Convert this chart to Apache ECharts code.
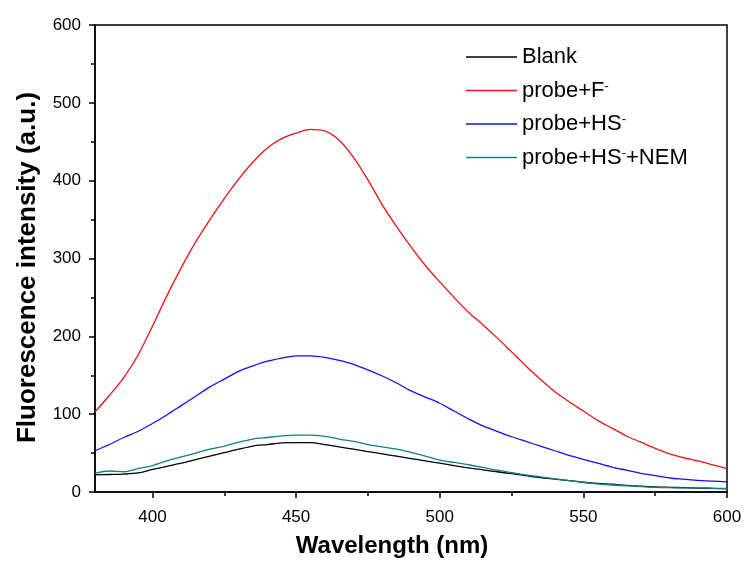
<!DOCTYPE html>
<html>
<head>
<meta charset="utf-8">
<script src="https://cdn.jsdelivr.net/npm/echarts@6/dist/echarts.min.js"></script>
<style>
  html, body { margin: 0; padding: 0; background: #fff; }
  #chart { width: 747px; height: 563px; }
</style>
</head>
<body>
<div id="chart"></div>
<script>
// wavelength (nm), 5 nm steps
const wavelengths = [380,385,390,395,400,405,410,415,420,425,430,435,440,445,450,455,460,465,470,475,480,485,490,495,500,505,510,515,520,525,530,535,540,545,550,555,560,565,570,575,580,585,590,595,600]

const blank = [22,22.5,23,24.5,29,33,37,41.5,46,50.5,55,59,61,63,63.5,63.5,61,58,55,52,49,46,43,40,37,34,31,28.5,26,23.5,21,18.5,16.5,14.5,12.5,11,10,8.5,7.5,6.5,6,5.5,5,4.6,4.3]
const probeF = [103,124,147,176,213,252,288,321,350,377,402,424,442,454,461,466,464,452,430,401,369,341,315,291,270,250,231,215,198,180,162,145,129,116,104,92,82,72,64,56,49,44,40,35,30]
const probeHS = [53,61,70,78,88,99,111,123,135,145,155,162,168,172,175,175,173,169,164,157,149,140,130,122,114,104,94,85,78,71,65,59,53,47,42,37,32,28,24,21,18,16.5,15,14,13]
const probeHSNEM = [24,27,26,30,34,40,45,50,55,59,64,68,70,72,73,73,71.5,68,65,61,58,55,51,46,41,38,35,31.5,28,25,22,19.5,17,14.5,12.5,10.5,9,8,7,6,5.5,5.2,5,4.8,4.5]

const xMajor = [400, 450, 500, 550, 600]
const xMinor = [425, 475, 525, 575]

const FONT = 'Liberation Sans, Arial, sans-serif'

function pairs(ys) {
  return wavelengths.map((x, i) => [x, ys[i]])
}

function line(name, ys, color) {
  return {
    name: name,
    type: 'line',
    data: pairs(ys),
    symbol: 'none',
    smooth: 0.3,
    lineStyle: { color: color, width: 1.3 },
    itemStyle: { color: color }
  }
}

const legendText = {
  'Blank': 'Blank',
  'probe+F-': 'probe+F{sup|-}',
  'probe+HS-': 'probe+HS{sup|-}',
  'probe+HS-+NEM': 'probe+HS{sup|-}+NEM'
}

const chart = echarts.init(document.getElementById('chart'))

const option = {
  backgroundColor: '#fff',
  animation: false,
  textStyle: { fontFamily: FONT },
  grid: {
    left: 95, right: 20, top: 25, bottom: 69,
    show: true,
    borderColor: '#000',
    borderWidth: 1.5
  },
  legend: {
    orient: 'vertical',
    left: 461,
    top: 41,
    itemWidth: 51,
    itemHeight: 1.5,
    itemGap: 11.5,
    itemTextGap: 7,
    icon: 'rect',
    formatter: n => legendText[n],
    textStyle: {
      fontFamily: FONT,
      fontSize: 22,
      color: '#000',
      rich: {
        sup: { fontSize: 13, fontFamily: FONT, color: '#000', verticalAlign: 'top', lineHeight: 22 }
      }
    },
    data: ['Blank', 'probe+F-', 'probe+HS-', 'probe+HS-+NEM']
  },
  xAxis: [
    {
      type: 'value',
      min: 380,
      max: 600,
      name: 'Wavelength (nm)',
      nameLocation: 'middle',
      nameGap: 42,
      nameTextStyle: { fontFamily: FONT, fontSize: 24, fontWeight: 'bold', color: '#000', padding: [0, 38, 0, 0] },
      axisLine: { show: true, onZero: false, lineStyle: { color: '#000', width: 1.5 } },
      axisTick: { show: true, length: 6, customValues: xMajor, lineStyle: { color: '#000', width: 1.5 } },
      axisLabel: { customValues: xMajor, margin: 17, fontSize: 17, color: '#000', fontFamily: FONT },
      splitLine: { show: false }
    },
    {
      type: 'value',
      position: 'bottom',
      min: 380,
      max: 600,
      axisLine: { show: false },
      axisTick: { show: true, length: 4, customValues: xMinor, lineStyle: { color: '#000', width: 1.5 } },
      axisLabel: { show: false },
      splitLine: { show: false }
    }
  ],
  yAxis: {
    type: 'value',
    min: 0,
    max: 600,
    interval: 100,
    name: 'Fluorescence intensity (a.u.)',
    nameLocation: 'middle',
    nameGap: 54,
    nameTextStyle: { fontFamily: FONT, fontSize: 26, fontWeight: 'bold', color: '#000', padding: [0, 18, 0, 0] },
    axisLine: { show: true, lineStyle: { color: '#000', width: 1.5 } },
    axisTick: { show: true, length: 6, lineStyle: { color: '#000', width: 1.5 } },
    minorTick: { show: true, splitNumber: 2, length: 4, lineStyle: { color: '#000', width: 1.5 } },
    axisLabel: { margin: 14, fontSize: 17, color: '#000', fontFamily: FONT },
    splitLine: { show: false }
  },
  series: [
    line('Blank', blank, '#000000'),
    line('probe+F-', probeF, '#ee1111'),
    line('probe+HS-', probeHS, '#1111ee'),
    line('probe+HS-+NEM', probeHSNEM, '#108080')
  ]
}

chart.setOption(option)
</script>
</body>
</html>
